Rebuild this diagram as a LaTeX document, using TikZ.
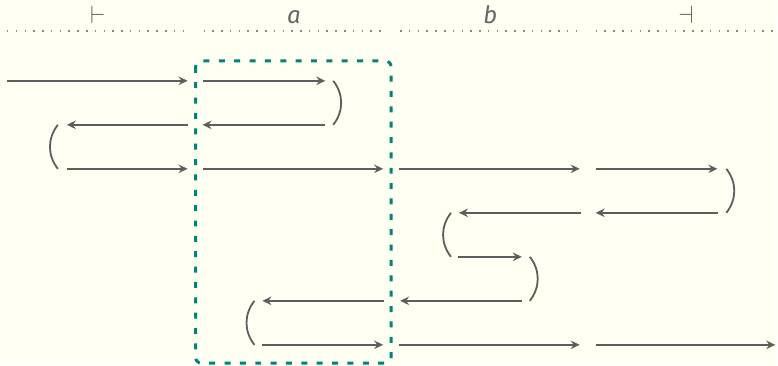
\documentclass[tikz,border=0pt]{standalone}
\usepackage{fontspec}
\setsansfont{Fira Sans}
\usepackage{tikz}
\usepackage{xcolor}
\usetikzlibrary{arrows.meta}

\definecolor{paper}{HTML}{FFFFF2}
\definecolor{inkgray}{HTML}{5E5E5E}
\definecolor{dotgray}{HTML}{8A8A8A}
\definecolor{labgray}{HTML}{666666}
\definecolor{boxteal}{HTML}{00827D}

\begin{document}
\begin{tikzpicture}[x=1pt, y=-1pt,
    seg/.style={draw=inkgray, line width=1.8pt, -{Stealth[length=9pt,width=8.5pt,inset=3pt]}},
    brk/.style={draw=inkgray, line width=1.8pt},
    rule/.style={draw=dotgray, line width=1.5pt, dash pattern=on 1.5pt off 7.3pt},
    head/.style={anchor=base, text=labgray, font=\sffamily\fontsize{24}{28}\selectfont},
    focus/.style={draw=boxteal, line width=3pt, dash pattern=on 6pt off 9.4pt, rounded corners=6pt}]
    % Background
    \fill[paper] (0,0) rectangle (778,366);
    % Column heads
    \node[head] (hstart) at (98,24) {$\vdash$};
    \node[head] (ha) at (294.5,24) {\textit{a}};
    \node[head] (hb) at (491.5,24) {\textit{b}};
    \node[head] (hend) at (687.5,24) {$\dashv$};
    \draw[rule] (7,31) -- (189,31);
    \draw[rule] (204,31) -- (386,31);
    \draw[rule] (401,31) -- (583,31);
    \draw[rule] (597,31) -- (779,31);
    % Highlighted column
    \draw[focus] (196,61) rectangle (392,364);
    % Segment ends, row by row
    \foreach \n/\x/\r in {A0/7/1, A1/188/1, A2/203/1, A3/326/1,
                          B0/67/2, B1/188/2, B2/203/2, B3/326/2,
                          C0/67/3, C1/188/3, C2/203/3, C3/384/3, C4/400/3, C5/581/3, C6/597/3, C7/719/3,
                          D0/460/4, D1/582/4, D2/597/4, D3/720/4,
                          E0/459/5, E1/523/5,
                          F0/263/6, F1/385/6, F2/401/6, F3/523/6,
                          G0/263/7, G1/384/7, G2/400/7, G3/581/7, G4/597/7, G5/777/7}
        \coordinate (\n) at (\x,{81+44.1*(\r-1)});
    % Arrows
    \foreach \a/\b in {A0/A1, A2/A3, B1/B0, B3/B2, C0/C1, C2/C3, C4/C5, C6/C7,
                       D1/D0, D3/D2, E0/E1, F1/F0, F3/F2, G0/G1, G2/G3, G4/G5}
        \draw[seg] (\a) -- (\b);
    % Turns
    \draw[brk] ([xshift=8pt]A3) to[bend left=38] ([xshift=8pt]B3);
    \draw[brk] ([xshift=-9pt]B0) to[bend right=38] ([xshift=-9pt]C0);
    \draw[brk] ([xshift=9pt]C7) to[bend left=38] ([xshift=8pt]D3);
    \draw[brk] ([xshift=-8pt]D0) to[bend right=38] ([xshift=-7pt]E0);
    \draw[brk] ([xshift=8pt]E1) to[bend left=38] ([xshift=8pt]F3);
    \draw[brk] ([xshift=-8pt]F0) to[bend right=38] ([xshift=-8pt]G0);
\end{tikzpicture}
\end{document}
